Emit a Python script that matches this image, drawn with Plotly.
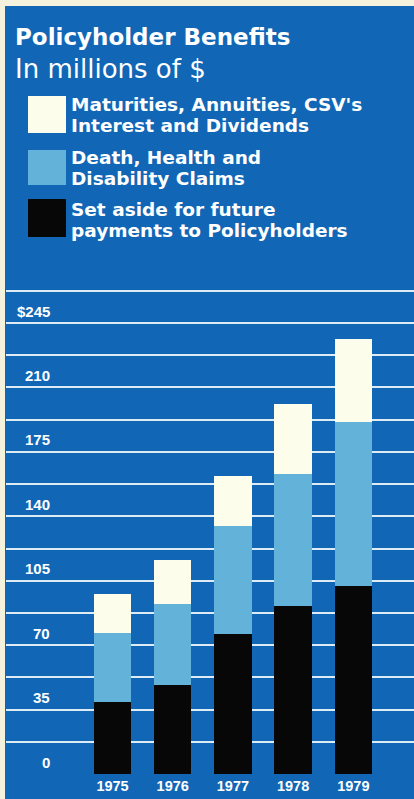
import plotly.graph_objects as go

# Policyholder benefits, in millions of dollars, stacked by category
years = ["1975", "1976", "1977", "1978", "1979"]
set_aside = [39, 48.5, 76, 91.5, 102]          # set aside for future payments
claims = [37.5, 44, 59, 71.5, 89.5]            # death, health and disability claims
maturities = [21.5, 24, 27, 38, 45]            # maturities, annuities, CSV's, interest, dividends

y_label_values = [245, 210, 175, 140, 105, 70, 35, 0]
y_label_texts = ["$245", "210", "175", "140", "105", "70", "35", "0"]
grid_values = [0, 17.5, 35, 52.5, 70, 87.5, 105, 122.5, 140,
               157.5, 175, 192.5, 210, 227.5, 245, 262.5]

legend_lines = [
    ["Maturities, Annuities, CSV's", "Interest and Dividends"],
    ["Death, Health and", "Disability Claims"],
    ["Set aside for future", "payments to Policyholders"],
]

BLUE = "#1167b6"
LIGHT = "#63b2d9"
CREAM = "#fdfdec"
BLACK = "#070707"
PAPER_EDGE = "#f4f1dc"
GRID = "#dcebf4"

W, H = 414, 799
ML, MR, MT, MB = 6, 0, 277, 24
PW, PH = W - ML - MR, H - MT - MB


def px(x):
    return (x - ML) / PW


def py(y):
    return (H - MB - y) / PH


fig = go.Figure()
for vals, color in [(set_aside, BLACK), (claims, LIGHT), (maturities, CREAM)]:
    fig.add_trace(go.Bar(x=years, y=vals, marker=dict(color=color, line=dict(width=0)),
                         hoverinfo="x+y"))

annotations = []
shapes = []

# Title block
annotations.append(dict(text="Policyholder Benefits", x=px(14), y=py(37), xref="paper", yref="paper",
                        xanchor="left", yanchor="middle", showarrow=False, borderpad=0,
                        font=dict(family="DejaVu Sans", size=23, color="white", weight="bold")))
annotations.append(dict(text="In millions of $", x=px(14), y=py(69), xref="paper", yref="paper",
                        xanchor="left", yanchor="middle", showarrow=False, borderpad=0,
                        font=dict(family="DejaVu Sans", size=26, color="white")))

# Legend: swatch plus two lines of text per entry
legend_colors = [CREAM, LIGHT, BLACK]
box_rows = [(96, 133), (150, 185), (199, 237)]
text_rows = [(105, 125.5), (157.5, 178), (209, 230.5)]
for lines, color, (b0, b1), (t0, t1) in zip(legend_lines, legend_colors, box_rows, text_rows):
    shapes.append(dict(type="rect", xref="paper", yref="paper", x0=px(28), x1=px(66),
                       y0=py(b1), y1=py(b0), fillcolor=color, line=dict(width=0)))
    for line, yc in zip(lines, (t0, t1)):
        annotations.append(dict(text=line, x=px(70), y=py(yc), xref="paper", yref="paper",
                                xanchor="left", yanchor="middle", showarrow=False, borderpad=0,
                                font=dict(family="DejaVu Sans", size=18.5, color="white",
                                          weight="bold")))

# Value labels sit just above their gridlines
for v, t in zip(y_label_values, y_label_texts):
    annotations.append(dict(text=t, x=px(52), y=v, xref="paper", yref="y",
                            xanchor="right", yanchor="middle", yshift=12, showarrow=False,
                            font=dict(family="Liberation Sans", size=15, color="white",
                                      weight="bold")))

# Paper edge along the top and left
shapes.append(dict(type="rect", xref="paper", yref="paper", x0=px(0), x1=px(5), y0=py(H), y1=py(0),
                   fillcolor=PAPER_EDGE, line=dict(width=0), layer="above"))
shapes.append(dict(type="rect", xref="paper", yref="paper", x0=px(0), x1=px(W), y0=py(6), y1=py(0),
                   fillcolor=PAPER_EDGE, line=dict(width=0), layer="above"))

fig.update_layout(
    width=W, height=H,
    margin=dict(l=ML, r=MR, t=MT, b=MB, pad=0),
    paper_bgcolor=BLUE, plot_bgcolor=BLUE,
    barmode="stack", bargap=0.377,
    showlegend=False,
    annotations=annotations, shapes=shapes,
    xaxis=dict(type="category", range=[-1.769, 5.008], showgrid=False, showline=False,
               zeroline=False, ticks="", fixedrange=True,
               tickfont=dict(family="Liberation Sans", size=14.5, color="white", weight="bold")),
    yaxis=dict(range=[-0.5, 270], tickvals=grid_values, showticklabels=False,
               showgrid=True, gridcolor=GRID, gridwidth=2, zeroline=False,
               showline=False, ticks="", fixedrange=True),
)

fig.write_html("out.html", config={"displayModeBar": False})
